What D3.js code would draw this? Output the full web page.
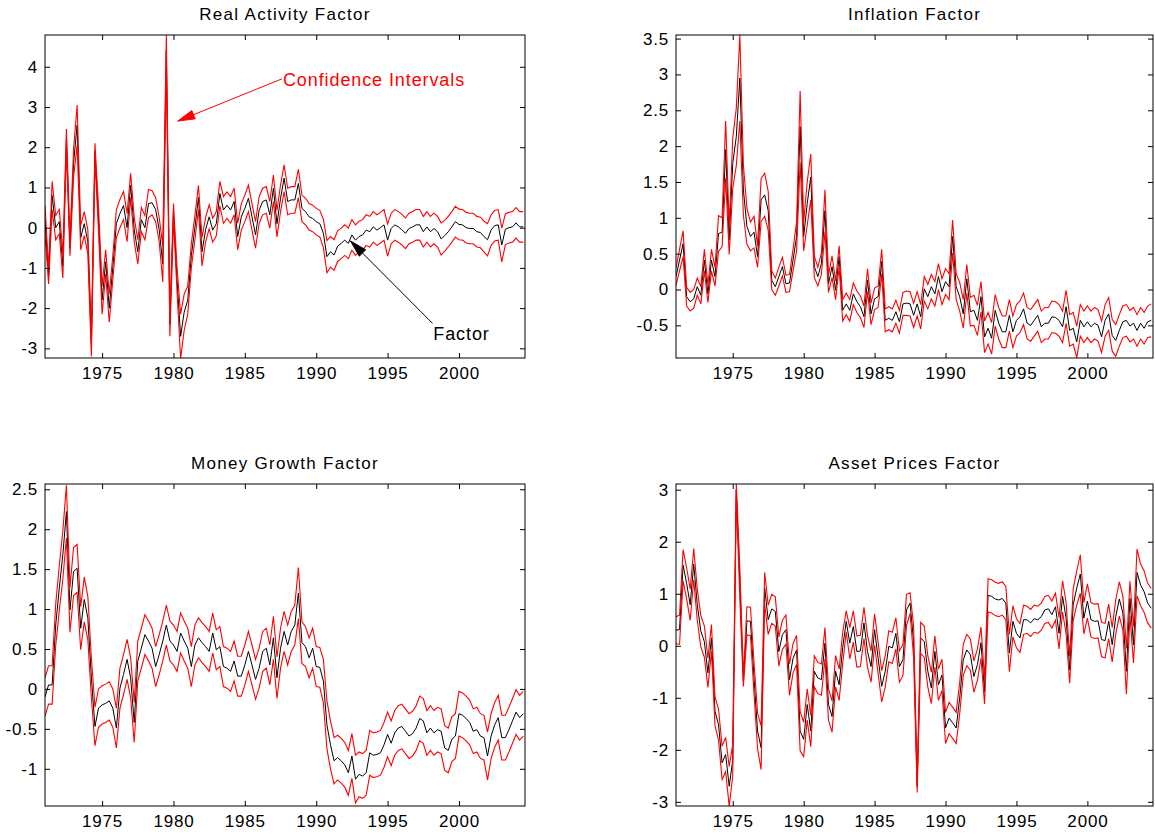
<!DOCTYPE html>
<html><head><meta charset="utf-8">
<script src="https://cdn.jsdelivr.net/npm/d3@7"></script>
<style>
body{margin:0;background:#fff;}
text{font-family:"Liberation Sans",Arial,Helvetica,sans-serif;}
</style></head><body>
<svg id="chart" width="1155" height="837"></svg>
<script>
// ---------------- DATA ----------------
const firstYear = 1971;               // first quarter 1971Q1
const xTickYears = [1975,1980,1985,1990,1995,2000];
const panelTitles = ["Real Activity Factor","Inflation Factor","Money Growth Factor","Asset Prices Factor"];
const realTicks = [-3,-2,-1,0,1,2,3,4];
const inflTicks = [-0.5,0,0.5,1,1.5,2,2.5,3,3.5];
const moneyTicks = [-1,-0.5,0,0.5,1,1.5,2,2.5];
const assetTicks = [-3,-2,-1,0,1,2,3];

const realFactor = [0.2,-1.2,0.8,0.0,0.15,-0.95,2.2,-0.5,1.6,2.55,
-0.25,0.1,-0.35,-2.9,1.9,0.2,-1.8,-0.85,-2.0,-1.0,
0.1,0.35,0.55,0.0,1.05,-0.05,-0.6,0.2,0.0,0.6,
0.62,0.45,-0.05,-0.9,4.4,-2.4,0.4,-1.3,-2.7,-2.1,
-1.8,-0.7,0.0,0.75,-0.6,-0.05,0.27,-0.06,0.1,0.85,
0.44,0.56,0.44,0.65,-0.22,0.27,0.48,0.73,0.27,-0.18,
0.44,0.65,0.69,0.32,0.98,0.1,0.73,1.23,0.65,0.69,
0.69,1.1,0.48,0.4,0.27,0.23,0.15,0.1,-0.14,-0.72,
-0.6,-0.68,-0.46,-0.39,-0.31,-0.39,-0.18,-0.31,-0.22,-0.18,
-0.06,-0.1,0.02,-0.06,0.0,0.07,-0.31,-0.02,0.07,0.02,
-0.05,-0.14,-0.02,0.02,0.07,0.07,-0.1,0.02,-0.1,-0.02,
-0.1,-0.28,-0.2,-0.1,0.02,0.15,0.08,0.07,0.0,-0.02,
-0.02,-0.1,-0.12,-0.22,-0.3,-0.06,0.05,0.07,-0.43,-0.04,
0.0,0.02,0.12,0.02,0.02];
const realHalf = [0.35,0.2,0.35,0.3,0.3,0.3,0.25,0.2,0.35,0.5,
0.3,0.3,0.3,0.3,0.2,0.3,0.35,0.3,0.35,0.3,
0.35,0.35,0.35,0.35,0.3,0.3,0.3,0.3,0.3,0.35,
0.3,0.3,0.3,0.45,0.39,0.3,0.2,0.3,0.55,0.45,
0.35,0.3,0.3,0.3,0.35,0.3,0.3,0.3,0.3,0.3,
0.33,0.33,0.33,0.33,0.33,0.33,0.33,0.33,0.33,0.33,
0.33,0.33,0.33,0.33,0.33,0.33,0.33,0.33,0.33,0.33,
0.33,0.35,0.33,0.33,0.33,0.33,0.33,0.33,0.35,0.4,
0.38,0.38,0.38,0.38,0.38,0.38,0.38,0.38,0.38,0.38,
0.38,0.38,0.38,0.38,0.38,0.38,0.4,0.38,0.38,0.38,
0.38,0.38,0.38,0.38,0.38,0.38,0.38,0.38,0.38,0.38,
0.38,0.4,0.38,0.38,0.38,0.38,0.38,0.38,0.38,0.38,
0.38,0.38,0.38,0.38,0.4,0.38,0.38,0.38,0.42,0.38,
0.38,0.38,0.38,0.38,0.38];

const inflFactor = [0.18,0.41,0.64,-0.1,-0.17,-0.13,0.04,-0.08,0.41,-0.06,
0.41,0.18,0.78,0.8,1.95,0.69,1.76,2.13,2.95,1.39,
0.88,0.74,0.8,0.46,1.25,1.32,1.1,0.13,0.04,0.18,
0.32,0.08,0.09,0.41,0.74,2.27,0.74,1.2,1.57,0.32,
0.18,0.36,1.1,0.08,0.32,-0.01,0.46,-0.29,-0.2,-0.29,
-0.06,-0.17,-0.24,-0.38,0.13,-0.34,-0.13,-0.1,0.39,-0.43,
-0.4,-0.43,-0.31,-0.45,-0.2,-0.19,-0.2,-0.36,-0.2,-0.38,
0.01,-0.1,0.04,-0.06,0.18,-0.03,0.11,0.04,0.74,0.04,
-0.1,-0.34,0.15,-0.31,-0.29,-0.43,-0.1,-0.66,-0.54,-0.68,
-0.29,-0.47,-0.59,-0.59,-0.36,-0.59,-0.43,-0.38,-0.27,-0.47,
-0.5,-0.43,-0.36,-0.52,-0.47,-0.47,-0.38,-0.39,-0.43,-0.52,
-0.24,-0.57,-0.54,-0.73,-0.43,-0.52,-0.45,-0.52,-0.47,-0.5,
-0.66,-0.43,-0.34,-0.64,-0.71,-0.57,-0.45,-0.43,-0.51,-0.47,
-0.57,-0.47,-0.54,-0.45,-0.43];
const inflHalf = [0.12,0.15,0.18,0.13,0.13,0.13,0.12,0.12,0.15,0.12,
0.15,0.13,0.25,0.2,0.4,0.2,0.35,0.4,0.6,0.35,
0.25,0.2,0.22,0.15,0.3,0.3,0.27,0.13,0.12,0.13,
0.13,0.12,0.12,0.15,0.2,0.5,0.2,0.3,0.32,0.15,
0.13,0.15,0.29,0.12,0.15,0.13,0.15,0.15,0.15,0.15,
0.15,0.15,0.15,0.15,0.16,0.15,0.15,0.15,0.17,0.16,
0.16,0.16,0.16,0.16,0.16,0.17,0.17,0.17,0.17,0.17,
0.17,0.17,0.17,0.17,0.18,0.18,0.18,0.18,0.23,0.18,
0.2,0.2,0.2,0.2,0.21,0.21,0.21,0.22,0.22,0.22,
0.22,0.22,0.22,0.22,0.22,0.22,0.22,0.22,0.22,0.22,
0.22,0.22,0.22,0.22,0.22,0.22,0.22,0.22,0.22,0.22,
0.23,0.22,0.22,0.22,0.22,0.22,0.22,0.22,0.22,0.22,
0.22,0.22,0.23,0.22,0.22,0.22,0.22,0.22,0.22,0.22,
0.22,0.22,0.22,0.22,0.23];

const moneyFactor = [-0.1,0.05,0.05,0.8,1.26,1.68,2.22,0.99,1.47,1.51,
0.76,1.12,0.89,0.14,-0.47,-0.24,-0.2,-0.18,-0.15,-0.24,
-0.49,0.01,0.18,0.37,0.14,-0.42,0.35,0.51,0.68,0.6,
0.51,0.28,0.43,0.6,0.8,0.6,0.55,0.47,0.7,0.6,
0.51,0.28,0.55,0.64,0.58,0.53,0.47,0.7,0.49,0.53,
0.28,0.26,0.22,0.35,0.16,0.16,0.3,0.47,0.3,0.12,
0.26,0.47,0.51,0.3,0.64,0.14,0.51,0.72,0.55,0.72,
0.8,1.2,0.58,0.53,0.39,0.51,0.28,0.27,0.1,-0.45,
-0.7,-0.9,-0.86,-0.9,-0.95,-1.05,-0.84,-1.13,-1.07,-1.09,
-1.05,-0.8,-0.83,-0.82,-0.8,-0.7,-0.57,-0.68,-0.55,-0.49,
-0.47,-0.53,-0.59,-0.56,-0.49,-0.37,-0.4,-0.55,-0.49,-0.55,
-0.51,-0.53,-0.74,-0.77,-0.63,-0.59,-0.31,-0.33,-0.37,-0.42,
-0.53,-0.51,-0.59,-0.61,-0.84,-0.59,-0.45,-0.36,-0.61,-0.61,
-0.51,-0.4,-0.29,-0.36,-0.31];
const moneyHalf = [0.24,0.24,0.24,0.26,0.28,0.3,0.33,0.28,0.3,0.3,
0.27,0.28,0.27,0.25,0.24,0.24,0.24,0.24,0.24,0.24,
0.25,0.25,0.25,0.25,0.25,0.25,0.25,0.25,0.25,0.25,
0.25,0.25,0.25,0.25,0.25,0.25,0.25,0.25,0.25,0.25,
0.25,0.25,0.25,0.25,0.25,0.25,0.25,0.25,0.25,0.25,
0.25,0.25,0.25,0.25,0.25,0.25,0.25,0.25,0.25,0.25,
0.25,0.25,0.25,0.25,0.27,0.26,0.25,0.25,0.25,0.25,
0.25,0.32,0.26,0.25,0.25,0.25,0.25,0.25,0.27,0.3,
0.3,0.29,0.28,0.28,0.28,0.28,0.28,0.3,0.28,0.28,
0.28,0.28,0.28,0.28,0.28,0.28,0.28,0.28,0.28,0.28,
0.28,0.28,0.28,0.28,0.28,0.28,0.28,0.28,0.28,0.28,
0.28,0.28,0.28,0.28,0.28,0.28,0.28,0.28,0.28,0.28,
0.28,0.28,0.28,0.28,0.3,0.28,0.28,0.28,0.28,0.28,
0.28,0.28,0.28,0.28,0.28];

const assetFactor = [0.3,0.31,1.55,1.2,0.79,1.57,0.79,0.28,0.08,-0.52,
0.15,-1.26,-1.52,-2.25,-2.09,-2.7,-2.2,3.0,1.2,-0.68,
0.48,0.47,-0.62,-1.64,-1.96,1.11,0.5,0.71,0.66,-0.11,
0.21,0.31,-0.65,-0.24,-0.08,-1.64,-1.8,-1.13,-1.64,-0.49,
-0.62,-0.65,0.05,-1.13,-1.36,-0.49,-0.75,-0.04,0.47,0.05,
0.37,-0.11,-0.1,0.44,-0.11,-0.4,0.31,-0.24,-0.78,-0.49,
-0.01,-0.04,0.24,-0.4,-0.27,0.69,0.82,0.08,-2.7,0.15,
0.08,-0.49,-0.81,-0.11,-0.75,-0.56,-1.58,-1.39,-1.48,-1.58,
-1.0,-0.27,-0.08,-0.17,-0.59,-0.36,0.06,-0.88,0.97,0.95,
0.9,0.88,0.91,0.82,-0.14,0.47,0.24,0.15,0.5,0.5,
0.44,0.52,0.5,0.56,0.69,0.71,0.6,0.75,0.24,0.95,
0.53,-0.46,0.79,1.11,1.38,0.53,0.86,0.5,0.47,0.48,
0.12,0.1,0.47,0.02,0.56,0.9,0.63,-0.49,0.91,0.02,
1.41,1.17,1.04,0.82,0.72];
const assetHalf = [0.26,0.28,0.3,0.3,0.3,0.3,0.3,0.3,0.3,0.28,
0.26,0.28,0.3,0.32,0.33,0.38,0.3,0.11,0.3,0.1,
0.27,0.27,0.3,0.34,0.42,0.3,0.28,0.28,0.28,0.28,
0.28,0.28,0.3,0.28,0.28,0.38,0.33,0.3,0.3,0.3,
0.3,0.3,0.3,0.3,0.3,0.3,0.3,0.3,0.2,0.3,
0.3,0.3,0.3,0.3,0.3,0.3,0.3,0.3,0.3,0.3,
0.3,0.3,0.3,0.3,0.3,0.3,0.2,0.3,0.12,0.3,
0.3,0.3,0.3,0.3,0.3,0.3,0.3,0.3,0.3,0.3,
0.3,0.3,0.3,0.3,0.3,0.3,0.3,0.24,0.32,0.32,
0.32,0.32,0.32,0.32,0.36,0.3,0.28,0.28,0.28,0.26,
0.26,0.26,0.26,0.26,0.26,0.26,0.26,0.26,0.3,0.3,
0.3,0.26,0.3,0.33,0.37,0.3,0.33,0.33,0.33,0.33,
0.33,0.33,0.33,0.33,0.33,0.33,0.33,0.44,0.33,0.35,
0.45,0.4,0.4,0.38,0.38];

// ---------------- LAYOUT ----------------
const panels = [
  {title:panelTitles[0], f:realFactor,  h:realHalf,  ticks:realTicks,  dom:[-3.24,4.79], box:[45,35,525,358]},
  {title:panelTitles[1], f:inflFactor,  h:inflHalf,  ticks:inflTicks,  dom:[-0.955,3.55], box:[676,35,1153,358]},
  {title:panelTitles[2], f:moneyFactor, h:moneyHalf, ticks:moneyTicks, dom:[-1.466,2.566], box:[45,484,525,806]},
  {title:panelTitles[3], f:assetFactor, h:assetHalf, ticks:assetTicks, dom:[-3.08,3.11], box:[676,484,1153,806]}
];
const svg = d3.select("#chart");
const fontSize = 17;
const fmt = d => String(d);

panels.forEach((p, k) => {
  const [x0,y0,x1,y1] = p.box;
  const x = d3.scaleLinear().domain([firstYear, 2004.625]).range([x0,x1]);
  const y = d3.scaleLinear().domain(p.dom).range([y1,y0]);
  const g = svg.append("g");
  const cid = "clip"+k;
  svg.append("clipPath").attr("id",cid).append("rect")
     .attr("x",x0).attr("y",y0).attr("width",x1-x0).attr("height",y1-y0);

  const data = p.f.map((v,i)=>({t:firstYear+i/4, f:v, up:v+p.h[i], lo:v-p.h[i]}));
  const mk = key => d3.line().x(d=>x(d.t)).y(d=>y(d[key]));
  const lines = g.append("g").attr("clip-path",`url(#${cid})`);
  lines.append("path").attr("d",mk("f")(data)).attr("fill","none").attr("stroke","#000").attr("stroke-width",1);
  lines.append("path").attr("d",mk("up")(data)).attr("fill","none").attr("stroke","#ff0000").attr("stroke-width",1.1);
  lines.append("path").attr("d",mk("lo")(data)).attr("fill","none").attr("stroke","#ff0000").attr("stroke-width",1.1);

  // axes with inward ticks
  const ax = (gen, tr) => {
    const a = g.append("g").attr("transform",tr).call(gen);
    a.select(".domain").remove();
    a.selectAll(".tick line").attr("stroke","#000");
    a.selectAll("text").attr("font-size",fontSize).attr("fill","#000")
      .attr("letter-spacing","0.8px")
      .attr("font-family",'"Liberation Sans",Arial,sans-serif');
    return a;
  };
  ax(d3.axisBottom(x).tickValues(xTickYears).tickSize(-5).tickPadding(9).tickFormat(fmt), `translate(0,${y1})`);
  ax(d3.axisTop(x).tickValues(xTickYears).tickSize(-5).tickFormat(""), `translate(0,${y0})`);
  ax(d3.axisLeft(y).tickValues(p.ticks).tickSize(-5).tickPadding(7).tickFormat(fmt), `translate(${x0},0)`);
  ax(d3.axisRight(y).tickValues(p.ticks).tickSize(-5).tickFormat(""), `translate(${x1},0)`);

  g.append("rect").attr("x",x0).attr("y",y0).attr("width",x1-x0).attr("height",y1-y0)
    .attr("fill","none").attr("stroke","#000").attr("stroke-width",1);

  g.append("text").attr("x",(x0+x1)/2).attr("y",y0-15).attr("text-anchor","middle")
    .attr("font-size",fontSize).attr("letter-spacing","1.3px").attr("fill","#000").text(p.title);

  if (k===0) {
    const arrow = (sx,sy,tx,ty,color) => {
      g.append("line").attr("x1",sx).attr("y1",sy).attr("x2",tx).attr("y2",ty)
        .attr("stroke",color).attr("stroke-width",1);
      const ang = Math.atan2(ty-sy, tx-sx), L=17, W=4.5;
      const bx = tx - L*Math.cos(ang), by = ty - L*Math.sin(ang);
      const px = -Math.sin(ang)*W, py = Math.cos(ang)*W;
      g.append("path").attr("d",`M${tx},${ty}L${bx+px},${by+py}L${bx-px},${by-py}Z`)
        .attr("fill",color).attr("stroke",color);
    };
    // Confidence Intervals annotation
    arrow(x(1987.6), y(3.7), x(1980.3), y(2.65), "#ff0000");
    g.append("text").attr("x",x(1987.6)+1).attr("y",y(3.7)+7).attr("font-size",18)
      .attr("letter-spacing","0.9px").attr("fill","#ff0000").text("Confidence Intervals");
    // Factor annotation
    arrow(x(1998.15), y(-2.38), x(1992.4), y(-0.33), "#000");
    g.append("text").attr("x",x(1998.2)).attr("y",y(-2.8)).attr("font-size",18)
      .attr("letter-spacing","0.9px").attr("fill","#000").text("Factor");
  }
});
</script>
</body></html>
